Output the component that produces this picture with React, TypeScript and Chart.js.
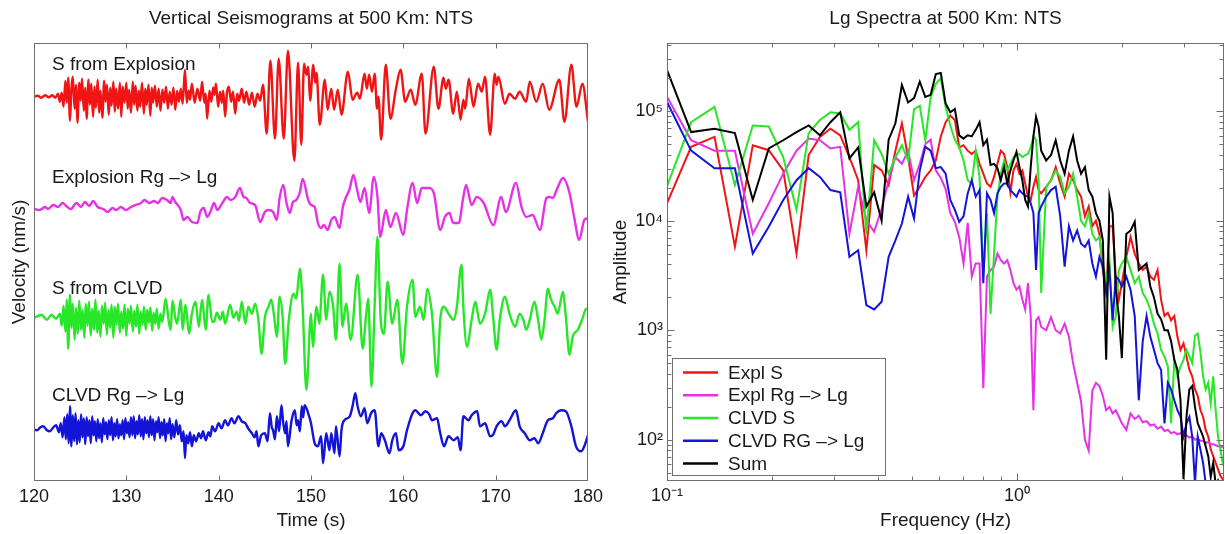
import React, { useEffect, useRef } from 'react';
import { Chart, registerables } from 'chart.js';

Chart.register(...registerables);

const FONT = '"Liberation Sans", Arial, Helvetica, sans-serif';
const TEXT = '#1a1a1a';
const FRAME = '#6f6f6f';

// ---------------- Left panel: seismograms (time s, amplitude in plot units) ----------------
const timeTicks = [120, 130, 140, 150, 160, 170, 180];
const traceNames = ['S from Explosion', 'Explosion Rg –> Lg', 'S from CLVD', 'CLVD Rg –> Lg'];
const traceColors = ['#f01414', '#e632e6', '#28e628', '#1414d8'];

const explosionS: [number, number][] = [
  [120.0, 0], [120.4, 1], [120.8, -1], [121.2, 1.5], [121.6, -0.5], [122.0, 1.5], [122.3, -1], [122.6, 3], [122.8, -5], [123.0, 4],
  [123.2, -10], [123.4, 16], [123.55, -6], [123.7, 19], [123.9, -24], [124.05, 8], [124.2, 20], [124.4, -12], [124.55, 12], [124.7, -26],
  [124.9, 14], [125.05, -4], [125.2, 18], [125.4, -14], [125.55, 9], [125.7, -22], [125.9, 17], [126.05, -8], [126.2, 13], [126.4, -20],
  [126.55, 10], [126.7, -11], [126.9, 17], [127.05, -16], [127.2, 6], [127.4, -21], [127.6, 16], [127.75, -5], [127.9, 12], [128.1, -18],
  [128.25, 9], [128.4, -9], [128.6, 15], [128.75, -15], [128.9, 8], [129.1, -12], [129.3, 14], [129.45, -20], [129.6, 10], [129.8, -6],
  [130.0, 14], [130.15, -12], [130.3, 7], [130.5, -16], [130.7, 15], [130.85, -8], [131.0, 11], [131.2, -14], [131.35, 6], [131.5, -10],
  [131.7, 14], [131.9, -17], [132.05, 8], [132.2, -8], [132.4, 12], [132.6, -19], [132.75, 9], [132.9, -6], [133.1, 11], [133.3, -10],
  [133.5, 8], [133.7, -14], [133.9, 7], [134.1, -6], [134.3, 10], [134.5, -12], [134.7, 5], [134.9, -8], [135.1, 9], [135.3, -13],
  [135.5, 6], [135.7, -5], [135.9, 8], [136.1, -7], [136.35, 27], [136.55, -6], [136.75, 6], [136.9, -3], [137.1, 13], [137.4, -6],
  [137.7, 8], [138.0, -4], [138.2, 15], [138.45, -6], [138.6, 3], [138.75, -22], [139.0, 6], [139.2, -5], [139.4, 9], [139.55, 2],
  [139.7, 13], [139.95, -10], [140.15, 5], [140.35, -6], [140.5, 6], [140.7, -20], [140.9, 4], [141.1, 10], [141.35, -5], [141.55, 5],
  [141.8, -17], [142.0, 3], [142.2, -4], [142.5, 8], [142.75, -6], [143.0, 5], [143.3, -8], [143.6, 4], [143.9, -10], [144.2, 3],
  [144.5, -4], [144.8, 12], [145.2, -37], [145.6, 36], [146.1, -42], [146.5, 38], [147.05, -42], [147.5, 46], [148.2, -64], [148.6, 34],
  [148.95, -48], [149.25, 33], [149.5, 22], [149.7, 30], [149.9, -4], [150.25, 32], [150.45, 14], [150.6, 24], [150.95, -28], [151.5, 17],
  [151.8, -13], [152.2, 8], [152.5, -13], [152.9, 7], [153.3, -18], [154.0, 25], [154.5, -3], [155.0, 4], [155.3, -2], [155.8, 23],
  [156.05, 8], [156.3, 22], [156.6, 5], [156.9, 23], [157.15, -12], [157.3, 0], [157.6, -43], [158.1, 32], [158.6, -22], [159.2, 8],
  [159.7, 27], [160.2, -5], [160.8, 7], [161.3, -8], [162.0, 23], [162.4, -37], [163.3, 30], [163.8, -12], [164.35, 19], [164.6, 8],
  [164.9, 17], [165.4, -17], [165.8, 5], [166.2, -23], [166.5, -3], [166.7, -12], [167.1, 18], [167.6, -10], [168.1, 13], [168.5, 5],
  [168.85, 20], [169.4, -38], [169.9, 23], [170.1, 12], [170.3, 20], [171.0, -7], [171.5, 3], [172.1, -2], [172.6, 5], [173.3, -5],
  [173.7, 15], [174.4, -5], [175.1, 13], [175.8, -13], [176.9, 17], [177.45, -25], [178.2, 32], [178.75, -10], [179.4, 13], [180.0, -25],
];

const explosionRg: [number, number][] = [
  [120.0, 0], [120.6, -1], [121.2, 2], [121.5, 0], [122.1, 4], [122.6, 2], [123.1, 6], [123.5, 3], [124.0, 0], [124.6, 6],
  [125.1, 2], [125.5, 7], [126.0, 3], [126.4, 8], [126.9, 2], [127.5, 0], [128.0, -3], [128.5, 1], [128.9, -1], [129.4, 2],
  [129.95, -1], [130.5, 2], [131.0, 4], [131.6, 6], [131.95, 9], [132.5, 6], [133.0, 8], [133.4, 6], [133.9, 11], [134.4, 9],
  [134.8, 6], [135.0, 12], [135.3, 7], [135.9, -1], [136.2, -11], [136.6, -8], [137.1, -13], [137.7, -14], [138.0, -3], [138.4, 1],
  [138.75, -8], [139.1, -3], [139.5, 6], [139.85, -1], [140.4, 6], [140.9, 12], [141.3, 9], [141.8, 12], [142.3, 21], [142.7, 12],
  [143.0, 11], [143.4, 6], [143.95, 4], [144.5, -13], [145.0, -3], [145.4, -1], [145.9, -3], [146.3, -11], [146.6, 11], [147.0, 24],
  [147.35, 6], [147.7, -4], [148.05, 7], [148.4, 9], [148.8, 17], [149.1, 30], [149.7, 9], [150.0, 4], [150.4, 2], [150.75, -14],
  [151.1, -19], [151.4, -16], [151.8, -21], [152.2, -11], [152.55, -8], [153.1, -19], [153.45, 2], [153.8, 12], [154.15, 19], [154.6, 34],
  [155.0, 19], [155.35, 7], [155.8, 21], [156.3, -4], [156.8, 32], [157.2, 12], [157.5, -28], [158.1, -1], [158.6, -18], [159.2, -4],
  [160.0, -26], [160.4, -1], [161.0, 26], [161.5, 6], [162.0, 21], [162.75, 21], [163.3, 16], [164.0, -21], [164.5, -8], [165.0, -4],
  [165.4, -14], [166.0, -14], [166.5, 12], [166.8, 24], [167.4, 4], [167.95, 12], [168.7, 6], [169.75, -16], [170.6, 12], [171.1, -3],
  [172.2, 26], [172.8, 2], [173.3, -8], [174.0, -6], [174.8, -21], [175.5, 11], [175.85, 12], [176.2, 11], [176.6, 19], [177.3, 31],
  [178.0, 16], [178.5, -8], [179.05, -31], [179.6, -11], [180.0, -9],
];

const clvdS: [number, number][] = [
  [120.0, 0], [120.3, 1], [120.8, 3], [121.4, -2], [121.9, 3], [122.4, -1], [122.8, 4], [123.0, -8], [123.2, 12], [123.4, -14],
  [123.55, 18], [123.7, -31], [123.9, 23], [124.05, -10], [124.2, 14], [124.4, -22], [124.55, 10], [124.75, -16], [124.9, 17], [125.1, -12],
  [125.25, 8], [125.45, -20], [125.6, 14], [125.8, -8], [125.95, 16], [126.15, -18], [126.3, 9], [126.5, -12], [126.65, 18], [126.85, -15],
  [127.0, 7], [127.2, -19], [127.35, 12], [127.55, -6], [127.7, 15], [127.9, -17], [128.05, 8], [128.25, -10], [128.4, 13], [128.6, -20],
  [128.75, 11], [128.95, -7], [129.1, 14], [129.3, -15], [129.45, 6], [129.65, -11], [129.8, 13], [130.0, -18], [130.15, 9], [130.35, -6],
  [130.5, 12], [130.7, -14], [130.85, 7], [131.05, -9], [131.2, 13], [131.4, -16], [131.55, 6], [131.75, -7], [131.9, 11], [132.1, -12],
  [132.25, 8], [132.45, -5], [132.6, 10], [132.8, -13], [132.95, 5], [133.15, -6], [133.3, 9], [133.5, -11], [133.7, 4], [133.9, -4],
  [134.25, 19], [134.6, -4], [134.8, -12], [135.0, 17], [135.3, 0], [135.5, -6], [135.9, 18], [136.1, -12], [136.4, 13], [136.8, -16],
  [137.1, 4], [137.5, 16], [137.85, -9], [138.2, 18], [138.6, -12], [138.9, 23], [139.3, -4], [139.5, -4], [139.8, 5], [140.2, -2],
  [140.45, 6], [140.7, -6], [141.25, 13], [141.6, 0], [141.95, 6], [142.2, -3], [142.5, 16], [142.9, -6], [143.2, 11], [143.6, 4],
  [143.95, 14], [144.3, -2], [144.65, -36], [145.0, 0], [145.4, 11], [145.7, 18], [146.0, 2], [146.3, -19], [146.6, 21], [146.95, -2],
  [147.2, -46], [147.6, -2], [148.1, 24], [148.4, 19], [148.8, 49], [149.1, 10], [149.5, -72], [150.0, 4], [150.2, -29], [150.6, 11],
  [150.9, -6], [151.3, 43], [151.65, -2], [152.0, 26], [152.4, 11], [152.7, -22], [153.1, 54], [153.4, -9], [153.8, 14], [154.3, -22],
  [155.05, 43], [155.6, -31], [155.95, 1], [156.2, 19], [156.55, -69], [156.9, 14], [157.2, 81], [157.55, -2], [157.9, -16], [158.3, 36],
  [158.8, -6], [159.35, 18], [159.9, -46], [160.4, 11], [161.0, 38], [161.3, 1], [161.8, 11], [162.2, -2], [162.6, 29], [163.1, 4],
  [163.65, -59], [164.0, -2], [164.4, 11], [164.9, 4], [165.45, -2], [165.8, 11], [166.3, 53], [166.5, 11], [166.9, -29], [167.4, -2],
  [167.8, 16], [168.3, -6], [168.85, 4], [169.4, 28], [169.75, -2], [170.1, -32], [170.45, -2], [171.0, 21], [171.5, 4], [172.1, -9],
  [172.6, 4], [173.0, -2], [173.3, -12], [173.7, -2], [174.2, 16], [174.6, -2], [174.95, -22], [175.3, -2], [175.65, 29], [176.0, 18],
  [176.4, 11], [176.7, 4], [177.3, 26], [177.6, 1], [178.0, -37], [178.35, -19], [178.9, -12], [179.4, -1], [179.8, 9], [180.0, 8],
];

const clvdRg: [number, number][] = [
  [120.0, 0], [120.3, -1], [120.7, 2], [121.0, 3], [121.4, -1], [121.7, -2], [122.1, 2], [122.4, 4], [122.7, -3], [122.9, 6],
  [123.1, -8], [123.3, 12], [123.45, -10], [123.6, 15], [123.75, -14], [123.9, 23], [124.05, -17], [124.2, 14], [124.35, -12], [124.5, 16],
  [124.65, -15], [124.8, 9], [124.95, -13], [125.1, 15], [125.25, -8], [125.4, 11], [125.55, -15], [125.7, 12], [125.85, -7], [126.0, 9],
  [126.15, -14], [126.3, 13], [126.45, -6], [126.6, 8], [126.75, -12], [126.9, 10], [127.05, -9], [127.2, 6], [127.35, -13], [127.5, 11],
  [127.65, -5], [127.8, 7], [127.95, -10], [128.1, 9], [128.25, -6], [128.4, 12], [128.55, -11], [128.7, 6], [128.85, -7], [129.0, 10],
  [129.15, -9], [129.3, 5], [129.45, -6], [129.6, 9], [129.75, -10], [129.9, 11], [130.05, -4], [130.2, 7], [130.35, -8], [130.5, 12],
  [130.65, -6], [130.8, 13], [130.95, -9], [131.1, 8], [131.25, -5], [131.4, 14], [131.55, -7], [131.7, 10], [131.85, -10], [132.0, 12],
  [132.15, -4], [132.3, 9], [132.45, -8], [132.6, 13], [132.75, -6], [132.9, 10], [133.05, -11], [133.2, 8], [133.35, -3], [133.5, 12],
  [133.65, -9], [133.8, 7], [133.95, -6], [134.1, 10], [134.25, -12], [134.4, 6], [134.55, -4], [134.7, 11], [134.85, -10], [135.0, 5],
  [135.2, -8], [135.4, 9], [135.6, -5], [135.8, 4], [136.0, -12], [136.2, -2], [136.35, -29], [136.5, -6], [136.7, -14], [136.9, -3],
  [137.1, -17], [137.3, -6], [137.55, -12], [137.85, -4], [138.1, -9], [138.3, -2], [138.6, -11], [138.9, -3], [139.1, -7], [139.3, 3],
  [139.6, -2], [140.0, 6], [140.3, 1], [140.7, 9], [141.0, 4], [141.4, 11], [141.7, 6], [142.15, 13], [142.5, 8], [142.9, 6],
  [143.2, 1], [143.6, -4], [143.9, -8], [144.1, -2], [144.3, -17], [144.6, -6], [145.0, -4], [145.3, -12], [145.55, 16], [145.75, 2],
  [145.9, -1], [146.1, -10], [146.3, 13], [146.55, -2], [146.8, 24], [147.0, 6], [147.2, -4], [147.35, 8], [147.5, -17], [147.9, 9],
  [148.25, 19], [148.45, 4], [148.6, 9], [148.8, -2], [149.0, 23], [149.15, 12], [149.3, 24], [149.7, 16], [150.0, 6], [150.4, -14],
  [150.75, -17], [151.1, -7], [151.3, -34], [151.65, -4], [152.0, -21], [152.2, -4], [152.55, -24], [152.7, 3], [153.1, -27], [153.3, -1],
  [153.6, 9], [154.2, 13], [154.5, 23], [154.8, 36], [155.05, 23], [155.4, 13], [155.8, 21], [156.1, 6], [156.5, 16], [156.9, 19],
  [157.3, -17], [157.6, -4], [158.0, -11], [158.5, -24], [158.8, -11], [159.2, -4], [159.5, -21], [160.0, -17], [160.4, -1], [161.0, 16],
  [161.3, 19], [161.9, 14], [162.4, 18], [162.8, 15], [163.1, 9], [163.65, 11], [164.0, -4], [164.4, -17], [164.9, -7], [165.45, -11],
  [165.9, -8], [166.2, -21], [166.5, 13], [167.05, 9], [167.4, 14], [168.0, 18], [168.3, 3], [168.85, 6], [169.4, -7], [169.75, -5],
  [170.1, 3], [170.65, 8], [171.0, 3], [171.5, 9], [172.2, 19], [172.6, 3], [173.15, -4], [173.7, -11], [174.2, -9], [174.6, -14],
  [175.1, -4], [175.65, 9], [176.2, 11], [176.55, 16], [177.1, 19], [177.6, 18], [178.2, 3], [178.7, -17], [179.25, -22], [179.6, -17],
  [180.0, -6],
];

// ---------------- Right panel: Lg spectra (frequency Hz, log10 amplitude) ----------------
const freqs = [
  0.0977, 0.1172, 0.1367, 0.1563, 0.1758, 0.1953, 0.2148, 0.2344, 0.2539, 0.2734, 0.2930, 0.3125, 0.3320, 0.3516, 0.3711, 0.3906,
  0.4102, 0.4297, 0.4492, 0.4688, 0.4883, 0.5078, 0.5273, 0.5469,
  0.5664, 0.5859, 0.6055, 0.6250, 0.6445, 0.6641, 0.6836, 0.7031, 0.7227, 0.7422, 0.7617, 0.7813,
  0.8008, 0.8203, 0.8398, 0.8594, 0.8789, 0.8984, 0.9180, 0.9375, 0.9570, 0.9766, 0.9961, 1.0156, 1.0352, 1.0547, 1.0742, 1.0938,
  1.1133, 1.1328, 1.1523, 1.1719,
  1.2109, 1.2500, 1.2891, 1.3281, 1.3672, 1.4063, 1.4453, 1.4844, 1.5234, 1.5625, 1.6016, 1.6406, 1.6797, 1.7188, 1.7578, 1.7969,
  1.8359, 1.8750, 1.9141, 1.9531, 1.9922,
  2.0508, 2.1094, 2.1680, 2.2266, 2.2852, 2.3438, 2.4023, 2.4609, 2.5195, 2.5781, 2.6367, 2.6953, 2.7539, 2.8125, 2.8711, 2.9297,
  2.9883, 3.0469, 3.1055, 3.1641, 3.2227, 3.2813, 3.3398, 3.3984, 3.4570, 3.5156, 3.5742, 3.6328, 3.6914, 3.7500, 3.8086, 3.8672,
  3.9258,
];

const explSLog = [
  4.085, 4.675, 4.766, 3.763, 4.69, 4.644, 4.46, 3.70, 4.60, 4.766, 4.84, 4.78, 4.58, 4.37, 3.73, 4.51, 4.46, 4.325, 4.64, 4.89, 4.58, 4.23, 4.31, 4.40,
  4.46, 4.55, 4.77, 4.90, 4.96, 4.92, 4.67, 4.69, 4.64, 4.61, 4.64, 4.52,
  4.43, 4.34, 4.31, 4.40, 4.52, 4.64, 4.61, 4.49, 4.26, 4.46, 4.52, 4.43, 4.46, 4.34, 4.22, 4.19, 4.31, 4.40, 4.28, 4.25,
  4.31, 4.37, 4.49, 4.34, 4.22, 4.43, 4.37, 4.28, 4.22, 4.04, 4.13, 3.95, 4.00, 3.88, 3.55, 3.34, 3.95, 3.95, 3.49, 3.28, 3.43,
  3.67, 3.85, 3.70, 3.61, 3.55, 3.58, 3.49, 3.46, 3.55, 3.28, 3.13, 3.16, 3.09, 3.13, 2.94, 2.82, 2.88, 2.76, 2.64, 2.58, 2.46, 2.40,
  2.27, 2.21, 2.09, 2.03, 1.91, 1.85, 1.79, 1.73, 1.67, 1.64, 1.60,
];
const explRgLog = [
  5.19, 4.735, 4.64, 4.64, 3.88, 4.16, 4.43, 4.64, 4.75, 4.735, 4.66, 4.675, 3.88, 4.31, 4.006, 3.90, 4.11, 4.37, 4.58, 4.52, 4.64, 4.37, 4.52, 4.70,
  4.74, 4.46, 4.39, 4.29, 4.07, 3.99, 3.85, 3.61, 3.98, 3.49, 3.61, 3.61,
  2.47, 3.49, 3.55, 3.58, 3.70, 3.64, 3.61, 3.64, 3.55, 3.43, 3.37, 3.40, 3.28, 3.19, 3.43, 3.13, 2.27, 3.09, 3.12, 3.03,
  3.00, 3.12, 3.00, 2.97, 3.06, 2.94, 2.70, 2.52, 2.35, 2.00, 1.90, 2.45, 2.52, 2.49, 2.40, 2.27, 2.30, 2.24, 2.27, 2.21, 2.15,
  2.09, 2.24, 2.19, 2.22, 2.16, 2.17, 2.13, 2.14, 2.10, 2.12, 2.08, 2.09, 2.06, 2.07, 2.05, 2.06, 2.03, 2.04, 2.02, 2.03, 2.00, 2.01,
  1.99, 1.99, 1.97, 1.98, 1.96, 1.96, 1.95, 1.94, 1.94, 1.93, 1.92,
];
const clvdSLog = [
  4.23, 4.90, 5.04, 4.325, 4.87, 4.86, 4.58, 4.10, 4.80, 4.92, 4.99, 4.98, 4.83, 4.90, 3.88, 4.735, 4.61, 4.43, 4.58, 4.69, 4.55, 5.02, 5.05, 4.735,
  5.13, 5.25, 5.30, 5.04, 4.87, 4.74, 4.67, 4.55, 4.37, 4.34, 4.64, 4.40,
  3.50, 4.07, 3.15, 3.70, 4.22, 4.43, 4.55, 4.46, 4.52, 4.58, 4.60, 4.61, 4.58, 4.60, 4.61, 4.67, 4.77, 4.74, 4.37, 3.34,
  4.31, 4.37, 4.46, 4.40, 4.25, 4.31, 4.43, 4.22, 4.00, 3.95, 4.07, 3.88, 3.82, 3.85, 3.61, 3.46, 3.64, 3.03, 3.13, 3.55, 3.61,
  3.67, 3.55, 3.43, 3.49, 3.34, 3.28, 3.19, 3.06, 2.97, 2.82, 2.76, 2.67, 2.15, 2.73, 2.58, 2.67, 2.73, 2.82, 2.76, 2.70, 2.95, 2.97,
  2.80, 2.58, 2.46, 2.52, 2.33, 2.58, 2.27, 2.03, 1.91, 1.79, 1.85,
];
const clvdRgLog = [
  5.15, 4.64, 4.48, 4.48, 3.70, 3.945, 4.19, 4.37, 4.48, 4.40, 4.28, 4.26, 3.67, 3.73, 3.23, 3.19, 3.26, 3.67, 3.82, 3.975, 4.22, 4.02, 4.46, 4.675,
  4.64, 4.48, 4.49, 4.43, 4.19, 4.10, 3.99, 4.04, 4.25, 4.37, 4.22, 4.28,
  3.43, 4.25, 4.19, 4.07, 4.25, 4.31, 4.34, 4.34, 4.28, 4.25, 4.22, 4.28, 4.25, 4.23, 4.22, 4.16, 4.07, 3.55, 4.07, 4.13,
  4.22, 4.28, 4.31, 4.04, 3.58, 3.95, 3.82, 3.91, 3.79, 3.76, 3.82, 3.61, 3.49, 3.67, 3.58, 3.34, 3.55, 3.09, 3.49, 3.46, 3.40,
  3.49, 3.37, 3.13, 2.36, 2.90, 3.13, 2.94, 2.82, 2.70, 2.64, 2.15, 2.52, 2.46, 2.36, 2.27, 2.21, 2.03, 2.15, 2.21, 2.03, 1.60, 2.03,
  1.91, 1.79, 1.60, 1.54, 1.57, 1.51, 1.51, 1.48, 1.48, 1.48, 1.48,
];
const sumLog = [
  5.46, 4.81, 4.84, 4.80, 4.19, 4.66, 4.735, 4.81, 4.87, 4.78, 4.90, 4.99, 4.57, 4.67, 4.13, 4.26, 4.00, 4.74, 4.89, 5.24, 5.08, 5.12, 5.27, 5.13,
  5.15, 5.34, 5.35, 5.07, 4.99, 5.02, 4.78, 4.75, 4.78, 4.77, 4.83, 4.90,
  4.69, 4.74, 4.51, 4.52, 4.48, 4.37, 4.49, 4.34, 4.46, 4.55, 4.63, 4.49, 4.37, 4.19, 4.13, 4.49, 4.77, 4.95, 4.86, 4.64,
  4.55, 4.60, 4.735, 4.55, 4.43, 4.64, 4.77, 4.55, 4.43, 4.49, 4.28, 4.22, 4.07, 4.00, 3.82, 2.73, 4.22, 4.07, 3.37, 3.13, 2.745,
  3.88, 3.91, 3.99, 3.55, 3.58, 3.61, 3.40, 3.30, 3.15, 3.10, 3.00, 3.00, 2.90, 2.73, 2.64, 2.36, 1.64, 2.21, 2.46, 2.49, 2.30, 2.15,
  2.09, 2.03, 1.94, 1.85, 1.66, 1.79, 1.60, 1.63, 1.57, 1.60, 1.54,
];

const spectraNames = ['Expl S', 'Expl Rg –> Lg', 'CLVD S', 'CLVD RG –> Lg', 'Sum'];
const spectraColors = ['#f01414', '#e632e6', '#28e628', '#1414d8', '#000000'];
const spectraLogs = [explSLog, explRgLog, clvdSLog, clvdRgLog, sumLog];

const freqTickValues = [0.1, 1];
const freqTickLabels = ['10⁻¹', '10⁰'];
const ampTickValues = [100, 1000, 10000, 100000];
const ampTickLabels = ['10²', '10³', '10⁴', '10⁵'];

// ---------------- plugins ----------------
const frameTicks = {
  id: 'frameTicks',
  afterDatasetsDraw(chart: any, _args: any, opts: any) {
    const { ctx, chartArea: a } = chart;
    const xs = chart.scales.x;
    const ys = chart.scales.y;
    ctx.save();
    ctx.strokeStyle = FRAME;
    ctx.lineWidth = 1;
    const L = Math.round(a.left) + 0.5;
    const R = Math.round(a.right) - 0.5;
    const T = Math.round(a.top) + 0.5;
    const B = Math.round(a.bottom) - 0.5;
    ctx.strokeRect(L, T, R - L, B - T);
    ctx.beginPath();
    const xt = (vals: number[], len: number) => {
      for (const v of vals) {
        const p = Math.round(xs.getPixelForValue(v)) + 0.5;
        if (p <= L + 1 || p >= R - 1) continue;
        ctx.moveTo(p, B); ctx.lineTo(p, B - len);
        ctx.moveTo(p, T); ctx.lineTo(p, T + len);
      }
    };
    const yt = (vals: number[], len: number) => {
      for (const v of vals) {
        const p = Math.round(ys.getPixelForValue(v)) + 0.5;
        if (p <= T + 1 || p >= B - 1) continue;
        ctx.moveTo(L, p); ctx.lineTo(L + len, p);
        ctx.moveTo(R, p); ctx.lineTo(R - len, p);
      }
    };
    xt(opts.xMajor || [], opts.majorLen || 6);
    xt(opts.xMinor || [], opts.minorLen || 3);
    yt(opts.yMajor || [], opts.majorLen || 6);
    yt(opts.yMinor || [], opts.minorLen || 3);
    ctx.stroke();
    ctx.restore();
  },
};

const traceLabelAnchors = [411.5, 298.5, 187.5, 80];
const traceLabels = {
  id: 'traceLabels',
  afterDatasetsDraw(chart: any) {
    const { ctx, chartArea: a } = chart;
    const ys = chart.scales.y;
    ctx.save();
    ctx.font = `19px ${FONT}`;
    ctx.fillStyle = TEXT;
    ctx.textBaseline = 'alphabetic';
    ctx.textAlign = 'left';
    traceNames.forEach((name, i) => {
      ctx.fillText(name, a.left + 18, ys.getPixelForValue(traceLabelAnchors[i]));
    });
    ctx.restore();
  },
};

const insetLegend = {
  id: 'insetLegend',
  afterDatasetsDraw(chart: any) {
    const { ctx, chartArea: a } = chart;
    const w = 214;
    const h = 118;
    const x0 = Math.round(a.left) + 5;
    const y0 = Math.round(a.bottom) - 5 - h;
    ctx.save();
    ctx.fillStyle = '#ffffff';
    ctx.fillRect(x0, y0, w, h);
    ctx.strokeStyle = FRAME;
    ctx.lineWidth = 1;
    ctx.strokeRect(x0 + 0.5, y0 + 0.5, w - 1, h - 1);
    ctx.font = `19px ${FONT}`;
    ctx.textBaseline = 'middle';
    ctx.textAlign = 'left';
    chart.data.datasets.forEach((ds: any, i: number) => {
      const y = y0 + 14.5 + i * 22.75;
      ctx.strokeStyle = ds.borderColor;
      ctx.lineWidth = 2.5;
      ctx.beginPath();
      ctx.moveTo(x0 + 11, y);
      ctx.lineTo(x0 + 46, y);
      ctx.stroke();
      ctx.fillStyle = TEXT;
      ctx.fillText(ds.label, x0 + 56, y + 1);
    });
    ctx.restore();
  },
};

// ---------------- configs ----------------
const traceBaselines = [384.3, 272, 163.3, 51.7];

function leftConfig(): any {
  const traces = [explosionS, explosionRg, clvdS, clvdRg];
  return {
    type: 'line',
    data: {
      datasets: traces.map((tr, i) => ({
        label: traceNames[i],
        data: tr.map(([t, v]) => ({ x: t, y: traceBaselines[i] + v })),
        borderColor: traceColors[i],
        borderWidth: 2.4,
        pointRadius: 0,
        cubicInterpolationMode: 'monotone',
        fill: false,
      })),
    },
    options: {
      animation: false,
      responsive: false,
      devicePixelRatio: 1,
      layout: { padding: { left: 0, right: 16, top: 0, bottom: 0 } },
      plugins: {
        legend: { display: false },
        tooltip: { enabled: false },
        title: {
          display: true,
          fullSize: false,
          text: 'Vertical Seismograms at 500 Km: NTS',
          color: TEXT,
          font: { family: FONT, size: 19, weight: 'normal', lineHeight: 1.2 },
          padding: { top: 7.6, bottom: 12.6 },
        },
        frameTicks: { xMajor: timeTicks, majorLen: 5 },
      },
      scales: {
        x: {
          type: 'linear',
          min: 120,
          max: 180,
          afterBuildTicks: (s: any) => { s.ticks = timeTicks.map((v) => ({ value: v })); },
          ticks: { color: TEXT, font: { family: FONT, size: 18 }, padding: 5, maxRotation: 0, autoSkip: false,
            callback: (_v: any, i: number) => String(timeTicks[i]) },
          grid: { display: false, drawTicks: false },
          border: { display: false },
          title: { display: true, text: 'Time (s)', color: TEXT, font: { family: FONT, size: 19, lineHeight: 1.2 }, padding: { top: 0, bottom: 1.5 } },
          afterFit: (s: any) => { s.height = 53; },
        },
        y: {
          type: 'linear',
          min: 0,
          max: 438,
          ticks: { display: false },
          grid: { display: false, drawTicks: false },
          border: { display: false },
          title: { display: true, text: 'Velocity (nm/s)', color: TEXT, font: { family: FONT, size: 19, lineHeight: 1.2 }, padding: { top: 8.6, bottom: 0 } },
          afterFit: (s: any) => { s.width = 34; },
        },
      },
    },
    plugins: [frameTicks, traceLabels],
  };
}

function rightConfig(): any {
  const xMinor: number[] = [];
  for (const d of [0.1, 1]) for (let m = 2; m <= 9; m++) xMinor.push(m * d);
  const yMinor: number[] = [];
  for (const d of [10, 100, 1000, 10000, 100000]) for (let m = 2; m <= 9; m++) yMinor.push(m * d);
  return {
    type: 'line',
    data: {
      datasets: spectraLogs.map((vals, i) => ({
        label: spectraNames[i],
        data: freqs.map((f, j) => ({ x: f, y: Math.pow(10, vals[j]) })),
        borderColor: spectraColors[i],
        borderWidth: 2,
        pointRadius: 0,
        tension: 0,
        fill: false,
        order: spectraLogs.length - i,
      })),
    },
    options: {
      animation: false,
      responsive: false,
      devicePixelRatio: 1,
      layout: { padding: { left: 0, right: 1, top: 0, bottom: 0 } },
      plugins: {
        legend: { display: false },
        tooltip: { enabled: false },
        title: {
          display: true,
          fullSize: false,
          text: 'Lg Spectra at 500 Km: NTS',
          color: TEXT,
          font: { family: FONT, size: 19, weight: 'normal', lineHeight: 1.2 },
          padding: { top: 7.6, bottom: 12.6 },
        },
        frameTicks: { xMajor: freqTickValues, xMinor, yMajor: ampTickValues, yMinor, majorLen: 7, minorLen: 4 },
      },
      scales: {
        x: {
          type: 'logarithmic',
          min: 0.1,
          max: 3.9,
          afterBuildTicks: (s: any) => { s.ticks = freqTickValues.map((v) => ({ value: v })); },
          ticks: { color: TEXT, font: { family: FONT, size: 18 }, padding: 4, maxRotation: 0, autoSkip: false,
            callback: (_v: any, i: number) => freqTickLabels[i] },
          grid: { display: false, drawTicks: false },
          border: { display: false },
          title: { display: true, text: 'Frequency (Hz)', color: TEXT, font: { family: FONT, size: 19, lineHeight: 1.2 }, padding: { top: 0, bottom: 1.5 } },
          afterFit: (s: any) => { s.height = 53; },
        },
        y: {
          type: 'logarithmic',
          min: 42,
          max: 420000,
          afterBuildTicks: (s: any) => { s.ticks = ampTickValues.map((v) => ({ value: v })); },
          ticks: { color: TEXT, font: { family: FONT, size: 18 }, padding: 4, autoSkip: false,
            callback: (_v: any, i: number) => ampTickLabels[i] },
          grid: { display: false, drawTicks: false },
          border: { display: false },
          title: { display: true, text: 'Amplitude', color: TEXT, font: { family: FONT, size: 19, lineHeight: 1.2 }, padding: { top: 1.6, bottom: 0 } },
          afterFit: (s: any) => { s.width = 59; },
        },
      },
    },
    plugins: [frameTicks, insetLegend],
  };
}

export default function App() {
  const leftRef = useRef<HTMLCanvasElement>(null);
  const rightRef = useRef<HTMLCanvasElement>(null);
  useEffect(() => {
    const left = new Chart(leftRef.current as HTMLCanvasElement, leftConfig());
    const right = new Chart(rightRef.current as HTMLCanvasElement, rightConfig());
    return () => {
      left.destroy();
      right.destroy();
    };
  }, []);
  return (
    <div style={{ position: 'absolute', left: 0, top: 0, width: 1225, height: 534, background: '#ffffff', overflow: 'hidden' }}>
      <canvas ref={leftRef} width={608} height={534} style={{ position: 'absolute', left: 0, top: 0, width: 608, height: 534 }} />
      <canvas ref={rightRef} width={617} height={534} style={{ position: 'absolute', left: 608, top: 0, width: 617, height: 534 }} />
    </div>
  );
}
